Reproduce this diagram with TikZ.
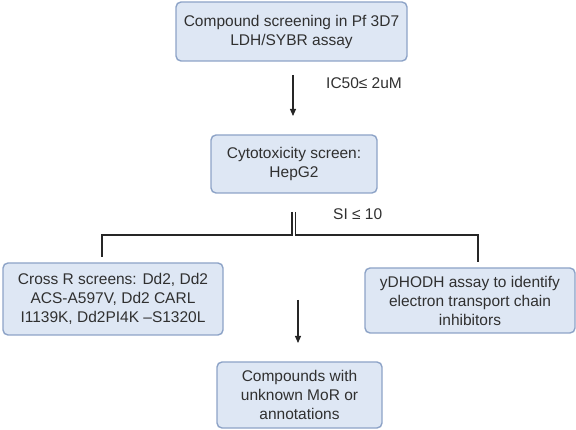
\documentclass[tikz,border=0pt]{standalone}
\usepackage{fontspec}
\setmainfont{Liberation Sans}
\usetikzlibrary{arrows.meta}
\definecolor{boxfill}{HTML}{DEE7F4}
\definecolor{boxline}{HTML}{8DA3C7}
\definecolor{txt}{HTML}{303030}
\tikzset{
  box/.style={draw=boxline, fill=boxfill, line width=1.4pt, rounded corners=5pt,
    align=center, inner sep=0pt, text=txt, font=\fontsize{15.5}{19}\selectfont},
  conn/.style={line width=1.1pt, draw=black!85},
  arr/.style={conn, -{Triangle[length=7pt,width=6pt]}},
  lbl/.style={text=txt, font=\fontsize{15.5}{19}\selectfont, inner sep=0pt, anchor=west}
}
\begin{document}
\begin{tikzpicture}[x=1pt,y=-1pt]
\useasboundingbox (0,0) rectangle (576,430);
\node[box, minimum width=231pt, minimum height=59pt] (b1) at (291.5,31.5) {Compound screening in Pf 3D7\\LDH/SYBR assay};
\node[box, minimum width=166pt, minimum height=58pt] (b2) at (294,164) {Cytotoxicity screen:\\HepG2};
\node[box, minimum width=220pt, minimum height=72pt] (b3) at (113,299) {Cross R screens: Dd2, Dd2\\ACS-A597V, Dd2 CARL\\I1139K, Dd2PI4K --S1320L};
\node[box, minimum width=210pt, minimum height=65pt] (b4) at (470,300.5) {yDHODH assay to identify\\electron transport chain\\inhibitors};
\node[box, minimum width=165pt, minimum height=66pt] (b5) at (299.5,395) {Compounds with\\unknown MoR or\\annotations};
% arrow 1
\coordinate (a1s) at (293,75);
\coordinate (a1e) at (293,116);
\draw[arr] (a1s) -- (a1e);
\node[lbl] (l1) at (326,83) {IC50≤ 2uM};
% split
\coordinate (s1) at (292,212);
\coordinate (s2) at (295.5,212);
\coordinate (t3) at (102,257);
\coordinate (t4) at (478,262);
\draw[conn] (s1) |- (102,235) -- (t3);
\draw[conn] (s2) |- (478,235) -- (t4);
\node[lbl] (l2) at (333,214) {SI ≤ 10};
% arrow 2
\coordinate (a2s) at (298,300);
\coordinate (a2e) at (298,343);
\draw[arr] (a2s) -- (a2e);
\end{tikzpicture}
\end{document}
